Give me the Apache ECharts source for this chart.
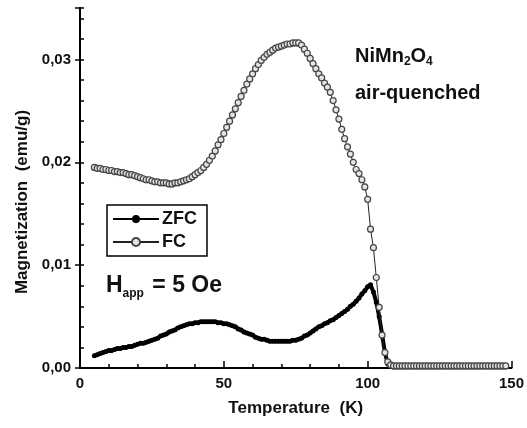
<!DOCTYPE html>
<html>
<head>
<meta charset="utf-8">
<script src="https://cdn.jsdelivr.net/npm/echarts@6/dist/echarts.min.js"></script>
<style>html,body{margin:0;padding:0;background:#fff;}#c{width:527px;height:428px;}</style>
</head>
<body>
<div id="c"></div>
<script>
// Temperature (K)
var temps = [5,6,7,8,9,10,11,12,13,14,15,16,17,18,19,20,21,22,23,24,25,26,27,28,29,30,
31,32,33,34,35,36,37,38,39,40,41,42,43,44,45,46,47,48,49,50,51,52,53,54,55,56,57,58,59,60,
61,62,63,64,65,66,67,68,69,70,71,72,73,74,75,76,77,78,79,80,81,82,83,84,85,86,87,88,89,90,
91,92,93,94,95,96,97,98,99,100,101,102,103,104,105,106,107,108,109,110,111,112,113,114,115,
116,117,118,119,120,121,122,123,124,125,126,127,128,129,130,131,132,133,134,135,136,137,138,
139,140,141,142,143,144,145,146,147,148,149,150];

// ZFC magnetization (emu/g)
var zfc = [0.0012,0.0013,0.0014,0.0015,0.0016,0.0017,0.0017,0.0018,0.0019,0.0019,0.0020,0.0020,
0.0021,0.0021,0.0022,0.0023,0.0024,0.0024,0.0025,0.0026,0.0027,0.0028,0.0029,0.0031,0.0032,0.0033,
0.0035,0.0036,0.0037,0.0039,0.0040,0.0041,0.0042,0.0043,0.0043,0.0044,0.0044,0.0045,0.0045,0.0045,
0.0045,0.0045,0.0045,0.0044,0.0044,0.0043,0.0043,0.0042,0.0041,0.0040,0.0038,0.0037,0.0035,0.0034,
0.0033,0.0032,0.0030,0.0029,0.0028,0.0028,0.0027,0.0026,0.0026,0.0026,0.0026,0.0026,0.0026,0.0026,
0.0026,0.0027,0.0027,0.0028,0.0029,0.0031,0.0032,0.0034,0.0036,0.0038,0.0040,0.0041,0.0043,0.0044,
0.0046,0.0047,0.0049,0.0051,0.0053,0.0055,0.0057,0.0060,0.0062,0.0065,0.0068,0.0072,0.0075,0.0079,
0.0081,0.0074,0.0064,0.0050,0.0033,0.0015,0.0004,0.0002,0.0001,0.0001,0.0001,0.0001,0.0001,0.0001,
0.0001,0.0001,0.0001,0.0001,0.0001,0.0001,0.0001,0.0001,0.0001,0.0001,0.0001,0.0001,0.0001,0.0001,
0.0001,0.0001,0.0001,0.0001,0.0001,0.0001,0.0001,0.0001,0.0001,0.0001,0.0001,0.0001,0.0001,0.0001,
0.0001,0.0001,0.0001,0.0001,0.0001,0.0001];

// FC magnetization (emu/g)
var fc = [0.0195,0.0194,0.0194,0.0193,0.0193,0.0192,0.0192,0.0191,0.0191,0.0190,0.0190,0.0189,
0.0188,0.0188,0.0187,0.0186,0.0185,0.0184,0.0183,0.0183,0.0182,0.0181,0.0181,0.0180,0.0180,0.0180,
0.0179,0.0179,0.0180,0.0180,0.0181,0.0182,0.0183,0.0184,0.0186,0.0188,0.0190,0.0192,0.0195,0.0198,
0.0202,0.0206,0.0211,0.0217,0.0222,0.0228,0.0234,0.0240,0.0246,0.0252,0.0258,0.0264,0.0270,0.0276,
0.0281,0.0286,0.0291,0.0295,0.0299,0.0302,0.0305,0.0307,0.0309,0.0311,0.0312,0.0313,0.0314,0.0315,
0.0315,0.0316,0.0316,0.0316,0.0314,0.0310,0.0306,0.0301,0.0296,0.0291,0.0286,0.0282,0.0277,0.0273,
0.0268,0.0260,0.0251,0.0242,0.0232,0.0223,0.0215,0.0208,0.0200,0.0193,0.0189,0.0183,0.0176,0.0164,
0.0135,0.0117,0.0088,0.0059,0.0032,0.0015,0.0006,0.0003,0.0002,0.0002,0.0002,0.0002,0.0002,0.0002,
0.0002,0.0002,0.0002,0.0002,0.0002,0.0002,0.0002,0.0002,0.0002,0.0002,0.0002,0.0002,0.0002,0.0002,
0.0002,0.0002,0.0002,0.0002,0.0002,0.0002,0.0002,0.0002,0.0002,0.0002,0.0002,0.0002,0.0002,0.0002,
0.0002,0.0002,0.0002,0.0002,0.0002,0.0002];

var xTickLabels = ['0','50','100','150'];
var yTickLabels = ['0,00','0,01','0,02','0,03'];

function pairs(xs, ys) { var out = []; for (var i = 0; i < xs.length; i++) out.push([xs[i], ys[i]]); return out; }

var FONT = '"Liberation Sans", Arial, sans-serif';
var chart = echarts.init(document.getElementById('c'), null, {renderer: 'canvas'});
chart.setOption({
  backgroundColor: '#fff',
  animation: false,
  textStyle: {fontFamily: FONT},
  grid: {left: 80, right: 12, top: 8, bottom: 60, containLabel: false},
  legend: {
    data: ['ZFC', 'FC'], orient: 'vertical', left: 107, top: 205,
    borderColor: '#000', borderWidth: 1.5, padding: [5, 10, 5, 5], itemGap: 5,
    itemWidth: 46, itemHeight: 10,
    textStyle: {fontFamily: FONT, fontSize: 18, fontWeight: 'bold', color: '#111', padding: [0,0,0,-2]}
  },
  xAxis: [
    {type: 'value', min: 0, max: 150, interval: 10,
     axisLine: {show: true, lineStyle: {color: '#000', width: 2}},
     axisTick: {show: true, inside: true, length: 4, lineStyle: {color: '#000', width: 1.5}},
     axisLabel: {show: false}, splitLine: {show: false}},
    {type: 'value', min: 0, max: 150, interval: 50, position: 'bottom',
     axisLine: {show: false},
     axisTick: {show: true, inside: true, length: 7, lineStyle: {color: '#000', width: 1.5}},
     axisLabel: {show: true, margin: 8, fontSize: 15, fontWeight: 'bold', color: '#111', fontFamily: FONT,
       formatter: function (v) { var i = Math.round(v / 50); return (Math.abs(v - i * 50) < 1e-9) ? xTickLabels[i] : ''; }},
     splitLine: {show: false},
     name: 'Temperature  (K)', nameLocation: 'middle', nameGap: 32,
     nameTextStyle: {fontSize: 17, fontWeight: 'bold', color: '#111', fontFamily: FONT}}
  ],
  yAxis: [
    {type: 'value', min: 0, max: 0.035, interval: 0.002,
     axisLine: {show: true, lineStyle: {color: '#000', width: 2}},
     axisTick: {show: true, inside: true, length: 4, lineStyle: {color: '#000', width: 1.5}},
     axisLabel: {show: false}, splitLine: {show: false}},
    {type: 'value', min: 0, max: 0.035, interval: 0.01, position: 'left',
     axisLine: {show: false},
     axisTick: {show: true, inside: false, length: 5, lineStyle: {color: '#000', width: 1.5}},
     axisLabel: {show: true, margin: 9, fontSize: 15, fontWeight: 'bold', color: '#111', fontFamily: FONT,
       formatter: function (v) { var i = Math.round(v / 0.01); return (Math.abs(v - i * 0.01) < 1e-9) ? yTickLabels[i] : ''; }},
     splitLine: {show: false}}
  ],
  graphic: [
    {type: 'text', x: 22, y: 202, rotation: Math.PI / 2,
     style: {text: 'Magnetization  (emu/g)', fontFamily: FONT, fontSize: 17, fontWeight: 'bold', fill: '#111',
       textAlign: 'center', textVerticalAlign: 'middle'}},
    {type: 'text', x: 355, y: 44,
     style: {text: '{a|NiMn}{b|2}{a|O}{b|4}', fontFamily: FONT, fill: '#111',
       rich: {a: {fontSize: 20, fontWeight: 'bold', lineHeight: 24, fontFamily: FONT},
              b: {fontSize: 12, fontWeight: 'bold', lineHeight: 12, verticalAlign: 'bottom', fontFamily: FONT}}}},
    {type: 'text', x: 355, y: 83,
     style: {text: 'air-quenched', fontFamily: FONT, fontSize: 20, fontWeight: 'bold', fill: '#111'}},
    {type: 'text', x: 106, y: 272,
     style: {text: '{a|H}{b|app}{a| = 5 Oe}', fontFamily: FONT, fill: '#111',
       rich: {a: {fontSize: 23, fontWeight: 'bold', lineHeight: 28, fontFamily: FONT},
              b: {fontSize: 12, fontWeight: 'bold', lineHeight: 12, verticalAlign: 'bottom', fontFamily: FONT, padding: [0,2,0,0]}}}}
  ],
  series: [
    {name: 'ZFC', type: 'line', xAxisIndex: 0, yAxisIndex: 0, data: pairs(temps, zfc),
     symbol: 'circle', symbolSize: 5, showAllSymbol: true,
     itemStyle: {color: '#000'}, lineStyle: {color: '#000', width: 4}, z: 2},
    {name: 'FC', type: 'line', xAxisIndex: 0, yAxisIndex: 0, data: pairs(temps, fc),
     symbol: 'circle', symbolSize: 6, showAllSymbol: true,
     itemStyle: {color: '#e4e4e4', borderColor: '#444', borderWidth: 1.2},
     lineStyle: {color: '#222', width: 1}, z: 3}
  ]
});
</script>
</body>
</html>
